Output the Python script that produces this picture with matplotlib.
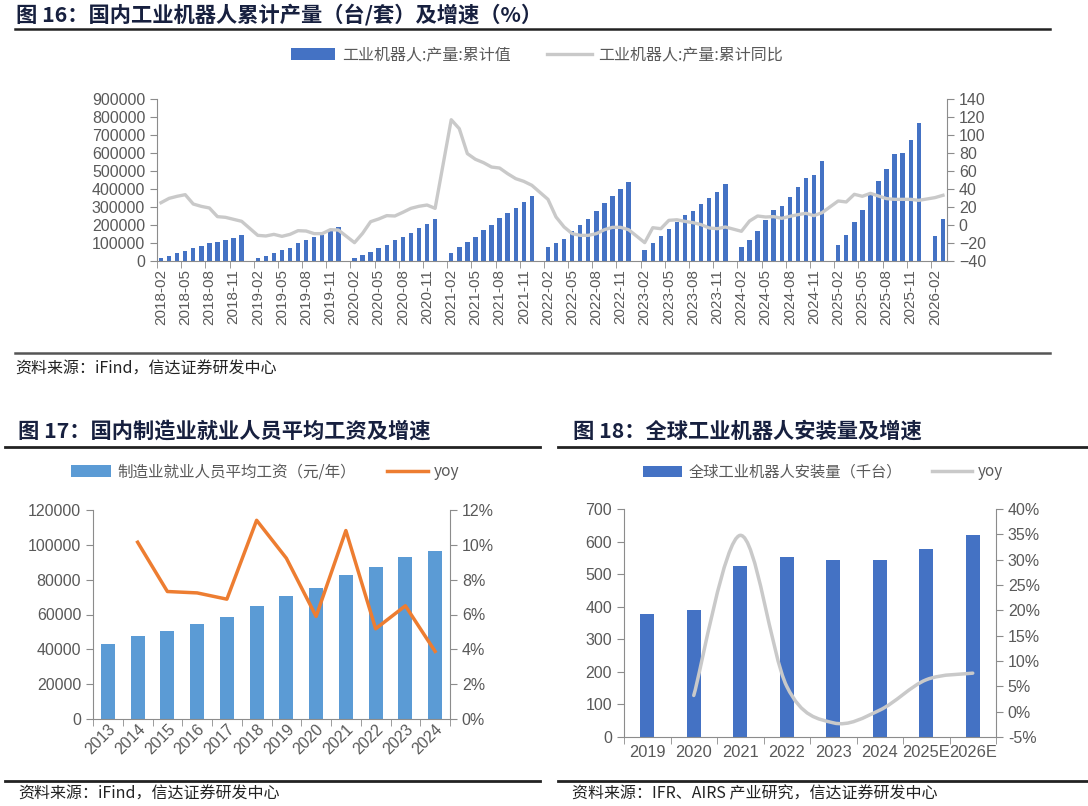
import numpy as np
import pandas as pd
import matplotlib
matplotlib.use("Agg")
import matplotlib.pyplot as plt
from matplotlib.lines import Line2D
from matplotlib.path import Path
from matplotlib.patches import PathPatch

plt.rcParams['font.family'] = ['Liberation Sans', 'Noto Sans CJK SC', 'DejaVu Sans']
CJK = ['Noto Sans CJK SC', 'DejaVu Sans']

# ---- 图16 data: 2018-02 .. 2026-03, None = January (no release)
cum_output = [
    18500, 29600, 44400, 57400, 72200, 85200, 100000, 107400, 116700, 129600, 144400,            # 2018
    None, 18500, 29600, 44400, 59300, 74100, 100000, 118500, 131500, 146300, 164800, 187000,     # 2019
    None, 18500, 33300, 51900, 70400, 90700, 114800, 133300, 157400, 182000, 205600, 233300,     # 2020
    None, 44400, 77800, 103700, 133300, 172200, 201900, 237000, 266700, 296300, 327800, 363000,  # 2021
    None, 75900, 100000, 124100, 164800, 200000, 235200, 275900, 320400, 359300, 400000, 438900, # 2022
    None, 61100, 100000, 138900, 179600, 218500, 253700, 277800, 318500, 350000, 385200, 425900, # 2023
    None, 75900, 118500, 168500, 225900, 281500, 307400, 357400, 413000, 461100, 479600, 553700, # 2024
    None, 88900, 146300, 218500, 285200, 366700, 442600, 509300, 592600, 598100, 670400, 768500, # 2025
    None, 140700, 235200,                                                                        # 2026
]
cum_yoy = [
    24.8, 29.6, 31.9, 33.7, 23.3, 20.7, 18.9, 9.3, 8.5, 6.3, 4.1,
    None, -11.5, -12.2, -10.4, -12.6, -10.4, -6.3, -6.7, -9.6, -9.6, -5.2, -5.6,
    None, -19.6, -9.3, 3.7, 6.7, 10.4, 10.0, 14.1, 18.5, 20.8, 22.2, 18.5,
    None, 117.0, 107.0, 79.3, 73.0, 69.3, 64.4, 63.3, 57.0, 51.5, 48.5, 44.1,
    None, 28.5, 8.9, -2.2, -9.6, -11.5, -11.5, -9.6, -5.2, -2.6, -2.6, -5.2,
    None, -19.6, -3.0, -4.1, 5.2, 5.8, 4.0, 2.6, 0.4, -3.3, -4.1, -2.2,
    None, -7.0, 4.4, 10.0, 8.9, 9.3, 7.4, 9.6, 11.5, 13.0, 10.4, 13.7,
    None, 26.7, 25.6, 34.1, 31.9, 35.2, 32.2, 29.3, 28.5, 28.5, 28.5, 27.4,
    None, 30.4, 33.0,
]
months = pd.period_range('2018-02', periods=len(cum_output), freq='M').strftime('%Y-%m')

# ---- 图17 data
wage_years = ['2013', '2014', '2015', '2016', '2017', '2018', '2019', '2020', '2021', '2022', '2023', '2024']
wage = [43000, 47600, 50800, 54650, 58500, 65000, 70700, 75100, 82900, 87100, 92900, 96500]
wage_yoy = [None, 10.15, 7.32, 7.24, 6.88, 11.41, 9.23, 5.89, 10.82, 5.18, 6.50, 3.88]

# ---- 图18 data
inst_years = ['2019', '2020', '2021', '2022', '2023', '2024', '2025E', '2026E']
installs = [378, 391, 526, 553, 542, 543, 577, 619]
inst_yoy = [None, 3.2, 34.8, 5.0, -2.2, 0.3, 6.3, 7.6]

BLUE = '#4472C4'
LBLUE = '#5B9BD5'
ORANGE = '#ED7D31'
LGREY = '#C9C9C9'
AXC = '#8C8C8C'
TXT = '#595959'
TITLE = '#17203F'

W, H = 1088, 806
fig = plt.figure(figsize=(W / 100, H / 100), dpi=100)


def box(l, t, r, b):
    return [l / W, 1 - b / H, (r - l) / W, (b - t) / H]


def style(ax, twin, size):
    for a in (ax, twin):
        a.spines['top'].set_visible(False)
        for s in ('left', 'right', 'bottom'):
            a.spines[s].set_color(AXC)
        a.tick_params(colors=AXC, labelcolor=TXT, labelsize=size, direction='out', length=5)
    ax.spines['right'].set_visible(False)
    twin.spines['left'].set_visible(False)
    twin.spines['bottom'].set_visible(False)


def cat_ticks(ax, n, labels, step=1, **kw):
    ax.set_xticks(np.arange(0, n, step), labels[::step], **kw)
    ax.tick_params(axis='x', which='major', length=0, pad=6)
    ax.set_xticks(np.arange(-0.5, n, step), minor=True)
    ax.tick_params(axis='x', which='minor', length=5, color=AXC)


def fig_line(x0, x1, y, color='#222222', lw=1.8):
    fig.add_artist(Line2D([x0 / W, x1 / W], [1 - y / H, 1 - y / H], color=color, lw=lw))


def fig_text(x, y, s, **kw):
    fig.text(x / W, 1 - y / H, s, va='center', ha='left', family=CJK, **kw)


def smooth(xs, ys):
    # Excel style smoothed line (Catmull-Rom as cubic Bezier)
    p = np.column_stack([xs, ys]).astype(float)
    verts, codes = [p[0]], [Path.MOVETO]
    for i in range(len(p) - 1):
        p0 = p[i - 1] if i > 0 else p[i]
        p3 = p[i + 2] if i + 2 < len(p) else p[i + 1]
        c1 = p[i] + (p[i + 1] - p0) / 6
        c2 = p[i + 1] - (p3 - p[i]) / 6
        verts += [c1, c2, p[i + 1]]
        codes += [Path.CURVE4] * 3
    return Path(verts, codes)


# ================= 图16 =================
fig_text(16, 15, '图 16：国内工业机器人累计产量（台/套）及增速（%）', fontsize=15.3, weight='bold', color=TITLE)
fig_line(15, 1050, 29)

ax1 = fig.add_axes(box(157, 99, 947, 261))
x1 = np.arange(len(cum_output))
out = np.array([np.nan if v is None else v for v in cum_output], float)
m = ~np.isnan(out)
ax1.bar(x1[m], out[m], width=0.55, color=BLUE, label='工业机器人:产量:累计值')
ax1.set_xlim(-0.5, len(x1) - 0.5)
ax1.set_ylim(0, 900000)
ax1.set_yticks(range(0, 900001, 100000))
ax1b = ax1.twinx()
yy = np.array([np.nan if v is None else v for v in cum_yoy], float)
m = ~np.isnan(yy)
ax1b.plot(x1[m], yy[m], color=LGREY, lw=2.4, label='工业机器人:产量:累计同比')
ax1b.set_ylim(-40, 140)
ax1b.set_yticks(range(-40, 141, 20))
style(ax1, ax1b, 11.5)
cat_ticks(ax1, len(x1), list(months), step=3, rotation=90, fontsize=11)
h1, l1 = ax1.get_legend_handles_labels()
h2, l2 = ax1b.get_legend_handles_labels()
fig.legend(h1 + h2, l1 + l2, loc='center', bbox_to_anchor=(537 / W, 1 - 55 / H), ncol=2, frameon=False,
           prop={'family': CJK, 'size': 11.5}, labelcolor=TXT, handlelength=2.8, handleheight=0.75,
           columnspacing=2.3, handletextpad=0.4)

fig_line(15, 1050, 353, color='#555555', lw=1.8)
fig_text(15, 369, '资料来源：iFind，信达证券研发中心', fontsize=11.5, style='italic', color='#222222')

# ================= 图17 =================
fig_text(18, 431, '图 17：国内制造业就业人员平均工资及增速', fontsize=15.3, weight='bold', color=TITLE)
fig_line(5, 540, 447, lw=2)

ax2 = fig.add_axes(box(93, 510, 450, 719))
x2 = np.arange(len(wage))
ax2.bar(x2, wage, width=0.47, color=LBLUE, label='制造业就业人员平均工资（元/年）')
ax2.set_xlim(-0.5, len(x2) - 0.5)
ax2.set_ylim(0, 120000)
ax2.set_yticks(range(0, 120001, 20000))
ax2b = ax2.twinx()
wy = np.array([np.nan if v is None else v for v in wage_yoy], float)
m = ~np.isnan(wy)
ax2b.plot(x2[m], wy[m], color=ORANGE, lw=2.5, label='yoy')
ax2b.set_ylim(0, 12)
ax2b.set_yticks(range(0, 13, 2), [f'{v}%' for v in range(0, 13, 2)])
style(ax2, ax2b, 11.5)
cat_ticks(ax2, len(x2), wage_years, rotation=45, ha='right', rotation_mode='anchor', fontsize=11.5)
ax2.tick_params(axis='x', which='major', pad=2)
h1, l1 = ax2.get_legend_handles_labels()
h2, l2 = ax2b.get_legend_handles_labels()
fig.legend(h1 + h2, l1 + l2, loc='center', bbox_to_anchor=(265 / W, 1 - 472 / H), ncol=2, frameon=False,
           prop={'family': CJK, 'size': 11.2}, labelcolor=TXT, handlelength=2.6, handleheight=0.75,
           columnspacing=2.0, handletextpad=0.4)

fig_line(5, 540, 781, lw=2)
fig_text(18, 794, '资料来源：iFind，信达证券研发中心', fontsize=11.5, style='italic', color='#222222')

# ================= 图18 =================
fig_text(573, 431, '图 18：全球工业机器人安装量及增速', fontsize=15.3, weight='bold', color=TITLE)
fig_line(558, 1088, 447, lw=2)

ax3 = fig.add_axes(box(624, 509, 996, 737))
x3 = np.arange(len(installs))
ax3.bar(x3, installs, width=0.31, color=BLUE, label='全球工业机器人安装量（千台）')
ax3.set_xlim(-0.5, len(x3) - 0.5)
ax3.set_ylim(0, 700)
ax3.set_yticks(range(0, 701, 100))
ax3b = ax3.twinx()
iy = np.array([np.nan if v is None else v for v in inst_yoy], float)
m = ~np.isnan(iy)
ax3b.add_patch(PathPatch(smooth(x3[m], iy[m]), fill=False, edgecolor=LGREY, lw=2.5, capstyle='round'))
ax3b.set_ylim(-5, 40)
ax3b.set_yticks(range(-5, 41, 5), [f'{v}%' for v in range(-5, 41, 5)])
style(ax3, ax3b, 11.5)
cat_ticks(ax3, len(x3), inst_years, fontsize=11.8)
h1, l1 = ax3.get_legend_handles_labels()
h1.append(Line2D([], [], color=LGREY, lw=2.5))
l1.append('yoy')
fig.legend(h1, l1, loc='center', bbox_to_anchor=(823 / W, 1 - 472 / H), ncol=2, frameon=False,
           prop={'family': CJK, 'size': 11}, labelcolor=TXT, handlelength=2.6, handleheight=0.75,
           columnspacing=2.0, handletextpad=0.4)

fig_line(558, 1088, 781, lw=2)
fig_text(572, 794, '资料来源：IFR、AIRS 产业研究，信达证券研发中心', fontsize=11.5, style='italic', color='#222222')

fig.savefig('out.png', dpi=100)
